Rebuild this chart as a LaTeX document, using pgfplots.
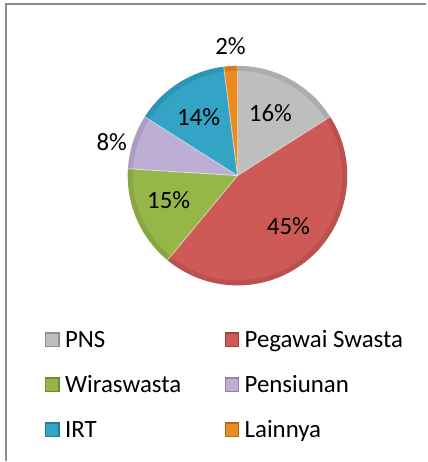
\documentclass[border=0pt]{standalone}
\usepackage{pgfplots}
\pgfplotsset{compat=1.18}
\usepackage{pgfplotstable}
\usepackage{fontspec}
\setmainfont{Carlito}

\definecolor{cPNS}{HTML}{BEBEBE}
\definecolor{cPS}{HTML}{CE5A57}
\definecolor{cWira}{HTML}{96B748}
\definecolor{cPens}{HTML}{BDAED6}
\definecolor{cIRT}{HTML}{33A3C6}
\definecolor{cLain}{HTML}{EC8A22}
\definecolor{frame}{HTML}{8C8C8C}

% label, value (%), colour, label x, label baseline y (chart pixels, y up)
\pgfplotstableread[col sep=comma]{
label,value,col,lx,ly
PNS,16,cPNS,271,340
Pegawai Swasta,45,cPS,289,227
Wiraswasta,15,cWira,169,253
Pensiunan,8,cPens,112,311
IRT,14,cIRT,199,336
Lainnya,2,cLain,231,407
}\piedata

\begin{document}
\begin{tikzpicture}
\begin{axis}[
  width=427bp, height=462bp, scale only axis,
  xmin=0, xmax=427, ymin=0, ymax=462,
  hide axis, clip=false,
]
\fill[white] (axis cs:0,0) rectangle (axis cs:427,462);
\draw[frame, line width=2bp] (axis cs:6,0) -- (axis cs:6,458) -- (axis cs:427,458);

\def\curang{90}
\pgfplotsforeachungrouped \i in {0,...,5}{%
  \pgfplotstablegetelem{\i}{value}\of\piedata \let\sliceval\pgfplotsretval
  \pgfplotstablegetelem{\i}{col}\of\piedata \let\slicecol\pgfplotsretval
  \pgfplotstablegetelem{\i}{lx}\of\piedata \let\slicelx\pgfplotsretval
  \pgfplotstablegetelem{\i}{ly}\of\piedata \let\slicely\pgfplotsretval
  \pgfmathsetmacro\endang{\curang-3.6*\sliceval}
  \edef\temp{%
    \noexpand\fill[\slicecol] (axis cs:238,286) -- ++(\curang:110bp)
      arc[start angle=\curang, end angle=\endang, radius=110bp] -- cycle;
    \noexpand\draw[\slicecol!70!black, opacity=0.3, line width=5bp]
      (axis cs:238,286) ++(\curang:107.5bp)
      arc[start angle=\curang, end angle=\endang, radius=107.5bp];
    \noexpand\draw[white, opacity=0.45, line width=1bp]
      (axis cs:238,286) -- ++(\curang:110bp);
    \noexpand\node[anchor=base, inner sep=0pt, font=\noexpand\fontsize{25}{30}\noexpand\selectfont, text=black]
      at (axis cs:\slicelx,\slicely) {\sliceval\noexpand\%};
  }%
  \temp
  \let\curang\endang
}

% legend (two columns, three rows)
\pgfplotsforeachungrouped \i in {0,...,5}{%
  \pgfplotstablegetelem{\i}{label}\of\piedata \let\leglab\pgfplotsretval
  \pgfplotstablegetelem{\i}{col}\of\piedata \let\legcol\pgfplotsretval
  \pgfmathtruncatemacro\lcol{mod(\i,2)}
  \pgfmathtruncatemacro\lrow{div(\i,2)}
  \pgfmathsetmacro\lx{45+180*\lcol}
  \pgfmathsetmacro\ly{114-45*\lrow}
  \pgfmathsetmacro\lxe{\lx+15}
  \pgfmathsetmacro\lye{\ly+15}
  \pgfmathsetmacro\ltx{\lx+20}
  \edef\temp{%
    \noexpand\fill[\legcol!75!black] (axis cs:\lx,\ly) rectangle (axis cs:\lxe,\lye);
    \noexpand\fill[\legcol] (axis cs:\lx,\ly) ++(1.5bp,1.5bp) rectangle ([shift={(-1.5bp,-1.5bp)}]axis cs:\lxe,\lye);
    \noexpand\node[anchor=base west, inner sep=0pt, font=\noexpand\fontsize{25}{30}\noexpand\selectfont]
      at (axis cs:\ltx,\ly) {\leglab};
  }%
  \temp
}
\end{axis}
\end{tikzpicture}
\end{document}
